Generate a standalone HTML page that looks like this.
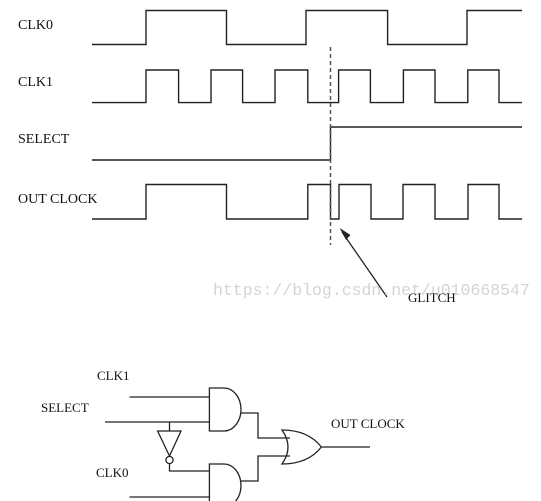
<!DOCTYPE html>
<html><head><meta charset="utf-8"><style>
html,body{margin:0;padding:0;background:#fff;}
svg{display:block}
text{font-family:"Liberation Serif",serif;font-size:14px;fill:#111;}
</style></head><body>
<svg width="541" height="501" viewBox="0 0 541 501" xmlns="http://www.w3.org/2000/svg">
<g fill="none" stroke="#222" stroke-width="1.4">
<polyline points="92,44.5 146,44.5 146,10.5 226.5,10.5 226.5,44.5 306,44.5 306,10.5 387.6,10.5 387.6,44.5 467,44.5 467,10.5 522,10.5"/>
<polyline points="92,102.6 146,102.6 146,70 178.6,70 178.6,102.6 211,102.6 211,70 242.6,70 242.6,102.6 275,102.6 275,70 307.8,70 307.8,102.6 338.6,102.6 338.6,70 370.4,70 370.4,102.6 403.4,102.6 403.4,70 435,70 435,102.6 467.8,102.6 467.8,70 499,70 499,102.6 522,102.6"/>
<polyline points="92,160 330.5,160 330.5,127 522,127"/>
<polyline points="92,219 146,219 146,184.5 226.5,184.5 226.5,219 307.8,219 307.8,184.5 330.5,184.5 330.5,219 339,219 339,184.5 371,184.5 371,219 403,219 403,184.5 435,184.5 435,219 468,219 468,184.5 499,184.5 499,219 522,219"/>
</g>
<line x1="330.5" y1="47" x2="330.5" y2="245" stroke="#555" stroke-width="1.5" stroke-dasharray="4,3"/>
<line x1="387" y1="297" x2="342" y2="232" stroke="#222" stroke-width="1.3"/>
<polygon points="339.6,228 346,240 350.5,235" fill="#222"/>
<text x="18" y="29">CLK0</text>
<text x="18" y="86">CLK1</text>
<text x="18" y="143">SELECT</text>
<text x="18" y="203">OUT CLOCK</text>
<text x="213" y="295" style="font-family:'Liberation Mono',monospace;font-size:16.5px;fill:#d4d4d4">https://blog.csdn.net/u010668547</text>
<text x="408" y="302" style="font-size:13px">GLITCH</text>
<g fill="none" stroke="#222" stroke-width="1.3">
<line x1="129.5" y1="397" x2="209.4" y2="397"/>
<line x1="105" y1="422" x2="209.4" y2="422"/>
<path d="M209.4,388 L224,388 A17,21.5 0 0 1 224,431 L209.4,431 Z"/>
<polyline points="241,413 258,413 258,438 290,438"/>
<line x1="169.5" y1="422" x2="169.5" y2="431"/>
<polygon points="157.6,431 181,431 169.5,456"/>
<circle cx="169.5" cy="460" r="3.6"/>
<polyline points="169.5,463.6 169.5,471 209.4,471"/>
<line x1="129.5" y1="497" x2="209.4" y2="497"/>
<path d="M209.4,464 L224,464 A17,21.5 0 0 1 224,507 L209.4,507 Z"/>
<polyline points="241,481 258,481 258,456 290,456"/>
<path d="M282,430 Q294,447 282,464 Q308,464 321.4,447 Q308,430 282,430 Z"/>
<line x1="321.4" y1="447" x2="370" y2="447"/>
</g>
<text x="97" y="380" style="font-size:13px">CLK1</text>
<text x="41" y="412" style="font-size:13px">SELECT</text>
<text x="96" y="477" style="font-size:13px">CLK0</text>
<text x="331" y="428" style="font-size:13px">OUT CLOCK</text>
</svg>
</body></html>
